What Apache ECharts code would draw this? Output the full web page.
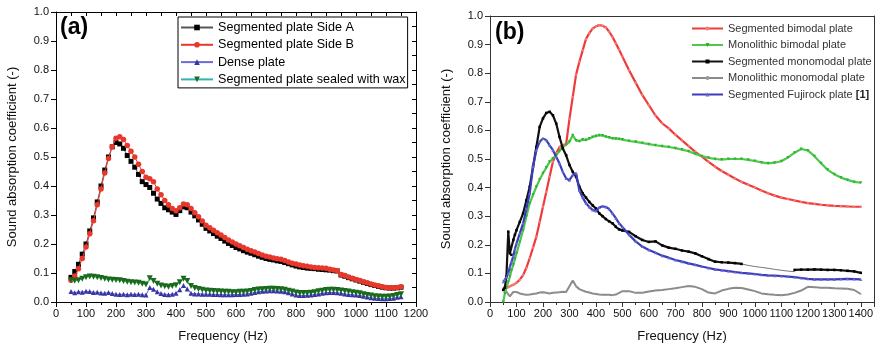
<!DOCTYPE html>
<html>
<head>
<meta charset="utf-8">
<script src="https://cdn.jsdelivr.net/npm/echarts@6/dist/echarts.min.js"></script>
<style>
html,body{margin:0;padding:0;background:#fff;}
#chart{width:876px;height:350px;}
</style>
</head>
<body>
<div id="chart"></div>
<script>
// ---------- Panel (a) ----------
const freqA = [
  50,62.5,75,87.5,100,112.5,125,137.5,
  150,162.5,175,187.5,200,212.5,225,237.5,
  250,262.5,275,287.5,300,312.5,325,337.5,
  350,362.5,375,387.5,400,412.5,425,437.5,
  450,462.5,475,487.5,500,512.5,525,537.5,
  550,562.5,575,587.5,600,612.5,625,637.5,
  650,662.5,675,687.5,700,712.5,725,737.5,
  750,762.5,775,787.5,800,812.5,825,837.5,
  850,862.5,875,887.5,900,912.5,925,937.5,
  950,962.5,975,987.5,1000,1012.5,1025,1037.5,
  1050,1062.5,1075,1087.5,1100,1112.5,1125,1137.5,
  1150
];
const sideA = [
  0.085,0.105,0.13,0.165,0.20,0.245,0.29,0.345,
  0.40,0.455,0.50,0.535,0.55,0.545,0.53,0.505,
  0.485,0.465,0.44,0.415,0.405,0.395,0.375,0.355,
  0.34,0.325,0.318,0.31,0.302,0.315,0.328,0.325,
  0.31,0.297,0.283,0.268,0.254,0.245,0.236,0.227,
  0.219,0.21,0.202,0.195,0.188,0.183,0.177,0.172,
  0.168,0.163,0.158,0.154,0.15,0.147,0.145,0.142,
  0.14,0.136,0.132,0.128,0.124,0.121,0.119,0.117,
  0.116,0.115,0.113,0.112,0.111,0.11,0.108,0.107,
  0.093,0.089,0.084,0.08,0.076,0.072,0.068,0.064,
  0.06,0.057,0.054,0.051,0.049,0.048,0.048,0.049,
  0.051
];
const sideB = [
  0.075,0.09,0.115,0.15,0.19,0.235,0.28,0.335,
  0.39,0.445,0.495,0.535,0.565,0.57,0.56,0.54,
  0.52,0.5,0.475,0.45,0.43,0.425,0.415,0.39,
  0.37,0.35,0.335,0.322,0.315,0.325,0.338,0.335,
  0.322,0.308,0.294,0.279,0.265,0.256,0.247,0.239,
  0.231,0.222,0.214,0.207,0.20,0.194,0.188,0.182,
  0.177,0.172,0.167,0.162,0.158,0.155,0.152,0.149,
  0.147,0.143,0.138,0.134,0.131,0.128,0.125,0.123,
  0.121,0.119,0.118,0.117,0.116,0.113,0.11,0.108,
  0.095,0.091,0.086,0.082,0.078,0.074,0.07,0.066,
  0.062,0.059,0.056,0.053,0.05,0.049,0.049,0.05,
  0.053
];
const densePlate = [
  0.036,0.032,0.035,0.034,0.037,0.036,0.033,0.034,
  0.031,0.03,0.033,0.029,0.027,0.026,0.027,0.025,
  0.027,0.026,0.027,0.025,0.024,0.05,0.044,0.035,
  0.029,0.026,0.025,0.027,0.03,0.042,0.057,0.045,
  0.03,0.028,0.028,0.027,0.027,0.027,0.026,0.026,
  0.025,0.025,0.025,0.025,0.026,0.026,0.027,0.028,
  0.03,0.033,0.035,0.037,0.038,0.039,0.039,0.038,
  0.037,0.035,0.032,0.028,0.024,0.022,0.022,0.023,
  0.024,0.026,0.028,0.03,0.032,0.033,0.033,0.032,
  0.03,0.028,0.026,0.025,0.024,0.022,0.02,0.017,
  0.015,0.013,0.012,0.011,0.011,0.012,0.013,0.016,
  0.018
];
const waxPlate = [
  0.075,0.073,0.075,0.08,0.085,0.088,0.087,0.085,
  0.083,0.08,0.078,0.077,0.076,0.075,0.072,0.07,
  0.068,0.067,0.066,0.063,0.06,0.082,0.072,0.063,
  0.057,0.054,0.053,0.055,0.058,0.068,0.08,0.072,
  0.055,0.048,0.045,0.042,0.04,0.039,0.038,0.037,
  0.036,0.035,0.035,0.034,0.034,0.035,0.035,0.036,
  0.038,0.041,0.043,0.044,0.045,0.046,0.046,0.045,
  0.044,0.042,0.039,0.036,0.033,0.031,0.031,0.031,
  0.032,0.034,0.037,0.039,0.041,0.042,0.042,0.041,
  0.04,0.038,0.036,0.034,0.032,0.03,0.027,0.024,
  0.022,0.02,0.019,0.018,0.018,0.019,0.021,0.024,
  0.027
];
const namesA = ['Segmented plate Side A','Segmented plate Side B','Dense plate','Segmented plate sealed with wax'];

// ---------- Panel (b) ----------
const freqB = [
  50,56,62,69,75,81,88,94,100,
  112.5,125,137.5,150,162.5,175,187.5,200,212.5,225,237.5,250,262.5,275,287.5,300,
  312.5,325,337.5,350,362.5,375,387.5,400,412.5,425,437.5,450,462.5,475,487.5,500,
  525,550,575,600,625,650,675,700,725,750,775,800,
  825,850,875,900,925,950,975,1000,1025,1050,1075,1100,
  1125,1150,1175,1200,1225,1250,1275,1300,1325,1350,1375,1400
];
const segBimodal = [
  0.045,0.048,0.05,0.052,0.055,0.058,0.06,0.063,0.067,
  0.078,0.094,0.12,0.153,0.19,0.228,0.28,0.333,0.385,0.438,0.49,0.52,0.542,0.548,0.552,0.64,
  0.717,0.795,0.84,0.88,0.92,0.94,0.956,0.964,0.968,0.966,0.96,0.945,0.927,0.905,0.882,0.858,
  0.81,0.767,0.724,0.688,0.652,0.625,0.607,0.585,0.565,0.545,0.525,0.508,
  0.49,0.473,0.458,0.445,0.432,0.42,0.41,0.40,0.39,0.38,0.372,0.365,
  0.36,0.355,0.35,0.346,0.343,0.34,0.338,0.336,0.335,0.334,0.333,0.333
];
const monoBimodal = [
  0.0,0.03,0.05,0.07,0.088,0.11,0.13,0.15,0.17,
  0.21,0.251,0.3,0.345,0.375,0.403,0.428,0.45,0.47,0.49,0.502,0.513,0.528,0.542,0.55,0.56,
  0.583,0.565,0.562,0.568,0.566,0.572,0.577,0.58,0.583,0.582,0.578,0.575,0.572,0.571,0.57,0.568,
  0.563,0.56,0.556,0.552,0.548,0.545,0.542,0.538,0.533,0.527,0.518,0.51,
  0.504,0.5,0.498,0.5,0.5,0.5,0.497,0.493,0.488,0.485,0.487,0.492,
  0.505,0.522,0.535,0.53,0.51,0.485,0.462,0.447,0.435,0.427,0.42,0.417
];
const segMonomodal = [
  0.042,0.05,0.09,0.246,0.17,0.165,0.217,0.235,0.251,
  0.28,0.31,0.356,0.403,0.473,0.542,0.612,0.642,0.661,0.665,0.653,0.624,0.577,0.537,0.513,0.479,
  0.455,0.438,0.403,0.38,0.365,0.35,0.338,0.327,0.31,0.3,0.29,0.282,0.275,0.263,0.254,0.25,
  0.245,0.23,0.217,0.21,0.212,0.198,0.19,0.186,0.18,0.176,0.17,0.16,
  0.15,0.141,0.139,0.138,0.136,0.133,null,null,null,null,null,null,
  null,0.112,0.113,0.113,0.114,0.113,0.112,0.112,0.111,0.109,0.107,0.102
];
const bridgeFreq = [950,975,1000,1025,1050,1075,1100,1125,1150];
const bridgeVal = [0.133,0.128,0.124,0.121,0.118,0.114,0.111,0.108,0.106];
const monoMonomodal = [
  0.05,0.045,0.035,0.03,0.02,0.025,0.035,0.035,0.035,
  0.03,0.027,0.025,0.026,0.028,0.03,0.033,0.034,0.032,0.03,0.032,0.033,0.034,0.036,0.035,0.055,
  0.075,0.055,0.045,0.04,0.036,0.033,0.03,0.028,0.026,0.025,0.025,0.025,0.024,0.026,0.032,0.038,
  0.038,0.032,0.032,0.037,0.04,0.042,0.045,0.048,0.052,0.056,0.053,0.045,
  0.033,0.03,0.04,0.046,0.05,0.049,0.044,0.038,0.03,0.027,0.025,0.024,
  0.026,0.032,0.04,0.053,0.052,0.05,0.05,0.048,0.047,0.046,0.042,0.028
];
const segFujirock = [
  0.071,0.078,0.087,0.1,0.123,0.14,0.16,0.185,0.205,
  0.24,0.275,0.325,0.38,0.473,0.531,0.56,0.572,0.566,0.548,0.531,0.508,0.484,0.455,0.432,0.426,
  0.444,0.45,0.39,0.365,0.345,0.332,0.322,0.318,0.33,0.335,0.332,0.325,0.31,0.293,0.275,0.262,
  0.235,0.212,0.194,0.182,0.172,0.162,0.155,0.147,0.141,0.135,0.13,0.124,
  0.119,0.114,0.111,0.108,0.105,0.102,0.1,0.098,0.095,0.093,0.092,0.091,
  0.089,0.087,0.084,0.081,0.079,0.079,0.079,0.079,0.08,0.081,0.08,0.079
];
const namesB = ['Segmented bimodal plate','Monolithic bimodal plate','Segmented monomodal plate','Monolithic monomodal plate','Segmented Fujirock plate [1]'];

const zip = (xs, ys) => xs.map((x, i) => [x, ys[i] === undefined ? null : ys[i]]);

const FONT = '"Liberation Sans", Arial, sans-serif';
const chart = echarts.init(document.getElementById('chart'), null, {renderer: 'canvas'});

function mainX(grid, max, color, nameShift) {
  return {
    type: 'value', gridIndex: grid, position: 'bottom', min: 0, max: max, interval: 100,
    axisLine: {show: true, onZero: false, lineStyle: {color: color, width: 1}},
    axisTick: {show: true, inside: false, length: 5, lineStyle: {color: color}},
    minorTick: {show: true, splitNumber: 2, length: 3, lineStyle: {color: color}},
    splitLine: {show: false},
    axisLabel: {color: '#111', fontSize: 11, fontFamily: FONT, margin: 6, interval: 0,
      showMaxLabel: max === 1200, formatter: v => String(v)},
    name: 'Frequency (Hz)', nameLocation: 'middle', nameGap: 28,
    nameTextStyle: {color: '#111', fontSize: 13, fontWeight: 'normal', fontFamily: FONT, padding: nameShift}
  };
}
function mainY(grid, color) {
  return {
    type: 'value', gridIndex: grid, position: 'left', min: 0, max: 1, interval: 0.1,
    axisLine: {show: true, onZero: false, lineStyle: {color: color, width: 1}},
    axisTick: {show: true, inside: false, length: 5, lineStyle: {color: color}},
    splitLine: {show: false},
    axisLabel: {color: '#111', fontSize: 11, fontFamily: FONT, margin: 7,
      formatter: v => v.toFixed(1)},
    name: 'Sound absorption coefficient (-)', nameLocation: 'middle', nameGap: 37,
    nameTextStyle: {color: '#111', fontSize: 13, fontWeight: 'normal', fontFamily: FONT}
  };
}
function frameAxis(kind, grid, max, interval, ticks, color) {
  return {
    type: 'value', gridIndex: grid, position: kind === 'x' ? 'top' : 'right',
    min: 0, max: max, interval: interval,
    axisLine: {show: true, onZero: false, lineStyle: {color: color, width: 1}},
    axisTick: {show: ticks, inside: true, length: 4, lineStyle: {color: color}},
    axisLabel: {show: false}, splitLine: {show: false}
  };
}

const option = {
  animation: false,
  backgroundColor: '#fff',
  grid: [
    {left: 56, top: 12, width: 360, height: 290},
    {left: 490, top: 16, width: 386, height: 286}
  ],
  xAxis: [
    mainX(0, 1200, '#000', [0, 26, 0, 0]),
    frameAxis('x', 0, 1200, 50, true, '#000'),
    mainX(1, 1450, '#333', [0, 0, 0, 0]),
    frameAxis('x', 1, 1450, 50, false, '#333')
  ],
  yAxis: [
    mainY(0, '#000'),
    frameAxis('y', 0, 1, 0.05, true, '#000'),
    mainY(1, '#333'),
    frameAxis('y', 1, 1, 0.1, false, '#333')
  ],
  legend: [
    {
      data: namesA, orient: 'vertical', left: 178, top: 17,
      itemWidth: 32, itemHeight: 7, itemGap: 4.3,
      padding: [4, 2, 2, 2],
      borderColor: '#000', borderWidth: 1, backgroundColor: '#fff',
      textStyle: {color: '#000', fontSize: 12.6, fontFamily: FONT}
    },
    {
      data: namesB, orient: 'vertical', left: 691, top: 23,
      itemWidth: 31, itemHeight: 5, itemGap: 5.5, padding: 0,
      formatter: n => n.replace('[1]', '{b|[1]}'),
      textStyle: {color: '#333', fontSize: 11, fontFamily: FONT,
        rich: {b: {fontSize: 11, fontWeight: 'bold', color: '#222', fontFamily: FONT}}}
    }
  ],
  graphic: [
    {type: 'text', left: 60, top: 16, style: {text: '(a)', fontSize: 23, fontWeight: 'bold', fontFamily: FONT, fill: '#000'}},
    {type: 'text', left: 495, top: 21, style: {text: '(b)', fontSize: 23, fontWeight: 'bold', fontFamily: FONT, fill: '#000'}}
  ],
  series: [
    {name: namesA[0], type: 'line', xAxisIndex: 0, yAxisIndex: 0, data: zip(freqA, sideA),
      symbol: 'rect', symbolSize: 5, showAllSymbol: true,
      lineStyle: {color: '#555', width: 1}, itemStyle: {color: '#000'}, z: 3},
    {name: namesA[1], type: 'line', xAxisIndex: 0, yAxisIndex: 0, data: zip(freqA, sideB),
      symbol: 'circle', symbolSize: 5.5, showAllSymbol: true,
      lineStyle: {color: '#e8372b', width: 1}, itemStyle: {color: '#e8372b'}, z: 4},
    {name: namesA[2], type: 'line', xAxisIndex: 0, yAxisIndex: 0, data: zip(freqA, densePlate),
      symbol: 'triangle', symbolSize: 5, showAllSymbol: true,
      lineStyle: {color: '#6a6ad8', width: 1}, itemStyle: {color: '#3535a5'}, z: 5},
    {name: namesA[3], type: 'line', xAxisIndex: 0, yAxisIndex: 0, data: zip(freqA, waxPlate),
      symbol: 'triangle', symbolRotate: 180, symbolSize: 6, showAllSymbol: true,
      lineStyle: {color: '#33b3b3', width: 1}, itemStyle: {color: '#1b6a1b'}, z: 6},

    {name: namesB[0], type: 'line', xAxisIndex: 2, yAxisIndex: 2, data: zip(freqB, segBimodal),
      symbol: 'circle', symbolSize: 2.5, showAllSymbol: true,
      lineStyle: {color: '#f03a3a', width: 2.2}, itemStyle: {color: '#f57a7a'}, z: 3},
    {name: namesB[1], type: 'line', xAxisIndex: 2, yAxisIndex: 2, data: zip(freqB, monoBimodal),
      symbol: 'triangle', symbolRotate: 180, symbolSize: 3, showAllSymbol: true,
      lineStyle: {color: '#4cc84c', width: 2.2}, itemStyle: {color: '#2fae2f'}, z: 3},
    {name: namesB[2], type: 'line', xAxisIndex: 2, yAxisIndex: 2, data: zip(freqB, segMonomodal),
      symbol: 'rect', symbolSize: 2.5, showAllSymbol: true, connectNulls: false,
      lineStyle: {color: '#111', width: 2.2}, itemStyle: {color: '#000'}, z: 4},
    {name: 'bridge', type: 'line', xAxisIndex: 2, yAxisIndex: 2, data: zip(bridgeFreq, bridgeVal),
      symbol: 'none', lineStyle: {color: '#777', width: 1}, z: 2},
    {name: namesB[3], type: 'line', xAxisIndex: 2, yAxisIndex: 2, data: zip(freqB, monoMonomodal),
      symbol: 'circle', symbolSize: 1.5, showAllSymbol: true,
      lineStyle: {color: '#8a8a8a', width: 2}, itemStyle: {color: '#999'}, z: 2},
    {name: namesB[4], type: 'line', xAxisIndex: 2, yAxisIndex: 2, data: zip(freqB, segFujirock),
      symbol: 'triangle', symbolSize: 3, showAllSymbol: true,
      lineStyle: {color: '#3b3bbd', width: 2.2}, itemStyle: {color: '#6a6ad0'}, z: 5}
  ]
};
chart.setOption(option);
</script>
</body>
</html>
